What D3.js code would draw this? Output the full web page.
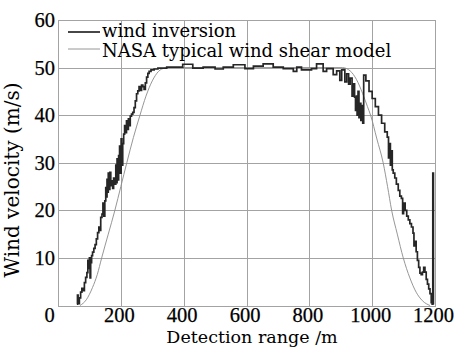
<!DOCTYPE html>
<html>
<head>
<meta charset="utf-8">
<script src="https://cdn.jsdelivr.net/npm/d3@7"></script>
<style>
  html, body { margin: 0; padding: 0; background: #fff; }
  svg { display: block; }
</style>
</head>
<body>
<svg id="chart" width="461" height="347"></svg>
<script>
// Axis ticks
const xTicks = [0, 200, 400, 600, 800, 1000, 1200];
const yTicks = [10, 20, 30, 40, 50, 60];

// Series labels
const seriesNames = ["wind inversion", "NASA typical wind shear model"];

// Retrieved wind profile: [detection range (m), wind velocity (m/s)]
const inversionPoints = [
  [60,0.3],[62,2.2],[64,0.4],[68,1.6],[72,2.8],[76,3.6],[80,3.1],[84,4.8],[88,5.9],[92,6.9],
  [95,9.5],[98,7.8],[100,10.0],[102,5.8],[104,9.0],[107,10.5],[110,11.2],[114,12.0],[118,12.8],
  [122,14.0],[126,15.3],[130,16.5],[133,15.8],[136,18.5],[140,19.2],[143,21.5],[146,18.8],
  [149,22.0],[152,24.8],[154,22.8],[156,26.5],[158,23.8],[160,27.8],[162,24.4],[165,28.0],
  [168,25.2],[171,26.2],[174,24.6],[177,26.8],[180,25.5],[184,29.5],[186,25.8],[188,30.8],
  [190,26.4],[193,31.5],[196,33.5],[198,27.8],[201,35.0],[203,29.5],[206,34.0],[209,36.0],
  [212,37.8],[215,36.3],[218,38.8],[221,37.0],[224,39.2],[227,37.8],[230,39.8],[234,40.2],
  [238,40.6],[242,41.6],[246,43.0],[250,44.5],[254,45.1],[258,46.0],[262,45.2],[266,46.3],
  [270,46.0],[274,45.4],[278,46.8],[282,48.0],[286,48.8],[290,49.2],[296,49.5],[306,49.7],
  [318,49.9],[346,50.1],[397,50.7],[429,49.9],[462,50.1],[500,49.7],[526,50.1],[558,50.6],
  [595,49.8],[622,50.3],[653,50.8],[685,50.1],[717,49.8],[749,49.2],[760,50.1],[775,49.5],
  [807,49.8],[823,50.8],[844,49.2],[855,49.8],[876,48.5],[887,49.3],[897,47.3],[903,49.5],
  [908,49.6],[913,47.0],[919,48.7],[925,46.5],[930,47.8],[936,44.0],[940,46.6],[944,43.8],
  [947,41.0],[950,44.0],[952,40.0],[955,45.0],[958,39.5],[961,42.5],[964,38.9],[967,42.0],
  [970,38.3],[973,48.4],[980,47.2],[990,45.0],[1000,43.5],[1010,41.8],[1020,40.0],[1030,38.3],
  [1040,36.5],[1048,35.4],[1052,31.0],[1055,34.0],[1058,29.5],[1061,32.5],[1064,28.5],
  [1067,27.8],[1072,26.8],[1077,25.5],[1083,24.2],[1088,23.0],[1093,22.5],[1097,19.3],
  [1100,21.5],[1105,20.0],[1110,18.8],[1115,18.0],[1120,17.2],[1125,16.5],[1130,15.2],
  [1133,12.5],[1136,13.5],[1140,11.3],[1144,9.5],[1148,8.0],[1152,6.8],[1156,6.5],[1160,7.0],
  [1164,8.0],[1168,7.0],[1172,5.5],[1176,4.5],[1180,3.5],[1184,2.5],[1188,0.6],[1191,0.3],
  [1193,27.8],[1195,0.2]
];

// NASA typical wind shear model: [detection range (m), wind velocity (m/s)]
const nasaPoints = [
  [70,0],[90,1.2],[110,3.8],[125,6.5],[139,10],[160,15],[181,20],[200,25],[219,30],
  [240,35.3],[261,40],[280,44],[300,47.2],[320,49.2],[340,49.9],[356,50],
  [905,50],[930,49.3],[950,47.5],[970,44.5],[985,41.8],[995,40],[1015,35],[1035,30],
  [1049,25],[1062,20],[1080,15],[1099,10],[1120,5.8],[1140,2.8],[1160,1.0],[1184,0]
];

const svg = d3.select("#chart");
const x = d3.scaleLinear().domain([0, 1200]).range([58, 435]);
const y = d3.scaleLinear().domain([0, 60]).range([305.5, 20]);

const gridColor = "#a3a3a3";
const tickFont = "'Liberation Serif', serif";
const textFont = "'DejaVu Serif', serif";

// Grid lines
const grid = svg.append("g").attr("stroke", gridColor).attr("stroke-width", 1).attr("shape-rendering", "crispEdges");
grid.selectAll("line.v").data(xTicks.slice(1, -1)).join("line")
  .attr("class", "v")
  .attr("x1", d => Math.round(x(d)) + 0.5).attr("x2", d => Math.round(x(d)) + 0.5)
  .attr("y1", y(60)).attr("y2", y(0));
grid.selectAll("line.h").data(yTicks.slice(0, -1)).join("line")
  .attr("class", "h")
  .attr("x1", x(0)).attr("x2", x(1200))
  .attr("y1", d => Math.round(y(d)) + 0.5).attr("y2", d => Math.round(y(d)) + 0.5);

// Plot frame
svg.append("rect")
  .attr("x", Math.round(x(0)) + 0.5).attr("y", Math.round(y(60)) + 0.5)
  .attr("width", Math.round(x(1200)) - Math.round(x(0)))
  .attr("height", Math.round(y(0)) - Math.round(y(60)))
  .attr("fill", "none").attr("stroke", gridColor).attr("shape-rendering", "crispEdges");

// Axes (labels only)
const xAxis = svg.append("g")
  .attr("transform", `translate(0,${y(0)})`)
  .call(d3.axisBottom(x).tickValues(xTicks).tickSize(0).tickPadding(1.5).tickFormat(d3.format("d")));
const yAxis = svg.append("g")
  .attr("transform", `translate(${x(0)},0)`)
  .call(d3.axisLeft(y).tickValues(yTicks).tickSize(0).tickPadding(3).tickFormat(d3.format("d")));

[xAxis, yAxis].forEach(g => {
  g.select(".domain").remove();
  g.selectAll("text")
    .attr("fill", "#000")
    .attr("stroke", "#000").attr("stroke-width", 0.25)
    .style("font-family", tickFont)
    .style("font-size", "20.5px");
});
xAxis.selectAll(".tick text").attr("dx", d => d === 0 ? -9 : -2);

// Curves
svg.append("path")
  .datum(nasaPoints)
  .attr("fill", "none")
  .attr("stroke", "#8a8a8a")
  .attr("stroke-width", 0.9)
  .attr("d", d3.line().x(d => x(d[0])).y(d => y(d[1])).curve(d3.curveMonotoneX));

svg.append("path")
  .datum(inversionPoints)
  .attr("fill", "none")
  .attr("stroke", "#262626")
  .attr("stroke-width", 1.7)
  .attr("stroke-linejoin", "miter")
  .attr("d", d3.line().x(d => x(d[0])).y(d => y(d[1])).curve(d3.curveStepAfter));

// Legend
const legend = svg.append("g");
const legendRows = [
  { name: seriesNames[0], color: "#262626", width: 1.7, ly: 32, ty: 37 },
  { name: seriesNames[1], color: "#8a8a8a", width: 0.9, ly: 49, ty: 57 }
];
legendRows.forEach(r => {
  legend.append("line")
    .attr("x1", 68).attr("x2", 100).attr("y1", r.ly).attr("y2", r.ly)
    .attr("stroke", r.color).attr("stroke-width", r.width);
  legend.append("text")
    .attr("x", 102).attr("y", r.ty)
    .attr("fill", "#000")
    .style("font-family", textFont)
    .style("font-size", "18px")
    .text(r.name);
});

// Axis titles
svg.append("text")
  .attr("x", 252).attr("y", 343)
  .attr("text-anchor", "middle")
  .attr("fill", "#000")
  .style("font-family", textFont)
  .style("font-size", "17.5px")
  .text("Detection range /m");

svg.append("text")
  .attr("transform", "translate(19,180) rotate(-90)")
  .attr("text-anchor", "middle")
  .attr("fill", "#000")
  .style("font-family", textFont)
  .style("font-size", "20px")
  .text("Wind velocity (m/s)");
</script>
</body>
</html>
